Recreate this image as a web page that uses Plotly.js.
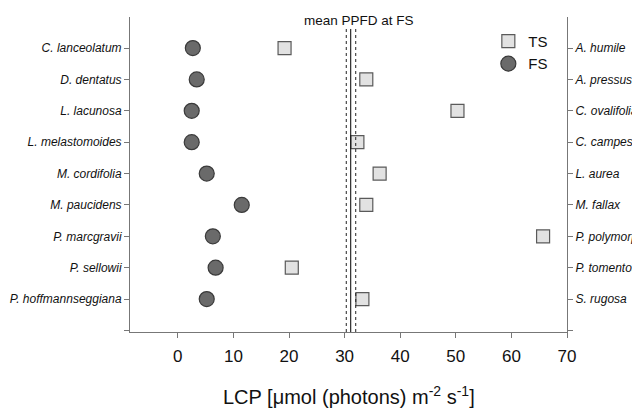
<!DOCTYPE html>
<html><head><meta charset="utf-8">
<script src="https://cdn.plot.ly/plotly-3.0.1.min.js"></script>
<style>body{margin:0;background:#fff}#chart{width:632px;height:410px}</style>
</head><body><div id="chart"></div>
<script>
const fsSpecies = ["C. lanceolatum","D. dentatus","L. lacunosa","L. melastomoides","M. cordifolia","M. paucidens","P. marcgravii","P. sellowii","P. hoffmannseggiana"];
const fsLCP = [2.7, 3.4, 2.5, 2.5, 5.2, 11.5, 6.3, 6.8, 5.2];
const tsSpecies = ["A. humile","A. pressus","C. ovalifolia","C. campestris","L. aurea","M. fallax","P. polymorpha","P. tomentosa","S. rugosa"];
const tsLCP = [19.2, 33.9, 50.3, 32.3, 36.3, 33.9, 65.7, 20.5, 33.2];
const meanPPFD = 31.1;
const ppfdLow = 30.3;
const ppfdHigh = 32.0;
const xTicks = [0,10,20,30,40,50,60,70];

const idx = fsSpecies.map((_, i) => i);
const tickVals = [-1, ...idx, 9];

const traces = [
  {x: tsLCP, y: idx, yaxis: 'y2', type: 'scatter', mode: 'markers', name: 'TS',
   marker: {symbol: 'square', size: 13, color: '#e2e2e2', line: {color: '#5a5a5a', width: 1.2}}},
  {x: fsLCP, y: idx, type: 'scatter', mode: 'markers', name: 'FS',
   marker: {symbol: 'circle', size: 15, color: '#6a6a6a', line: {color: '#3a3a3a', width: 1.2}}}
];

const yCommon = {
  range: [9.05, -0.99], tickmode: 'array', tickvals: tickVals,
  ticks: 'outside', ticklen: 5, tickcolor: '#777', showline: true, linecolor: '#777', linewidth: 1,
  showgrid: false, zeroline: false, tickfont: {family: 'Liberation Sans, Arial', size: 12, color: '#111', style: 'italic'}
};

const layout = {
  width: 632, height: 410,
  margin: {l: 130, r: 65, t: 17, b: 78},
  paper_bgcolor: '#fff', plot_bgcolor: '#fff',
  showlegend: true,
  legend: {x: 0.82, y: 0.975, xanchor: 'left', yanchor: 'top', bgcolor: 'rgba(0,0,0,0)',
           font: {family: 'Liberation Sans, Arial', size: 15, color: '#111'}, tracegroupgap: 0},
  xaxis: {
    range: [-8.6, 70], tickmode: 'array', tickvals: xTicks,
    ticks: 'outside', ticklen: 5, tickcolor: '#777', showline: true, linecolor: '#777', linewidth: 1,
    showgrid: false, zeroline: false, ticklabelstandoff: 4,
    tickfont: {family: 'Liberation Sans, Arial', size: 17, color: '#111'}
  },
  yaxis: Object.assign({}, yCommon, {ticktext: ['', ...fsSpecies, '']}),
  yaxis2: Object.assign({}, yCommon, {overlaying: 'y', side: 'right', ticktext: ['', ...tsSpecies, '']}),
  shapes: [
    {type: 'line', xref: 'x', yref: 'paper', x0: meanPPFD, x1: meanPPFD, y0: 0, y1: 0.962, line: {color: '#000', width: 1}},
    {type: 'line', xref: 'x', yref: 'paper', x0: ppfdLow, x1: ppfdLow, y0: 0, y1: 0.962, line: {color: '#222', width: 1, dash: 'dot'}},
    {type: 'line', xref: 'x', yref: 'paper', x0: ppfdHigh, x1: ppfdHigh, y0: 0, y1: 0.962, line: {color: '#222', width: 1, dash: 'dot'}}
  ],
  annotations: [
    {x: meanPPFD, xref: 'x', y: 0.99, yref: 'paper', xshift: 8, text: 'mean PPFD at FS', showarrow: false,
     xanchor: 'center', yanchor: 'middle', font: {family: 'Liberation Sans, Arial', size: 13.5, color: '#111'}},
    {x: 0.5, xref: 'paper', y: -0.2, yref: 'paper', text: 'LCP [\u03bcmol (photons) m<sup>-2</sup> s<sup>-1</sup>]', showarrow: false,
     xanchor: 'center', yanchor: 'middle', font: {family: 'Liberation Sans, Arial', size: 20, color: '#111'}}
  ]
};

Plotly.newPlot('chart', traces, layout, {displayModeBar: false, staticPlot: true});
</script>
</body></html>
